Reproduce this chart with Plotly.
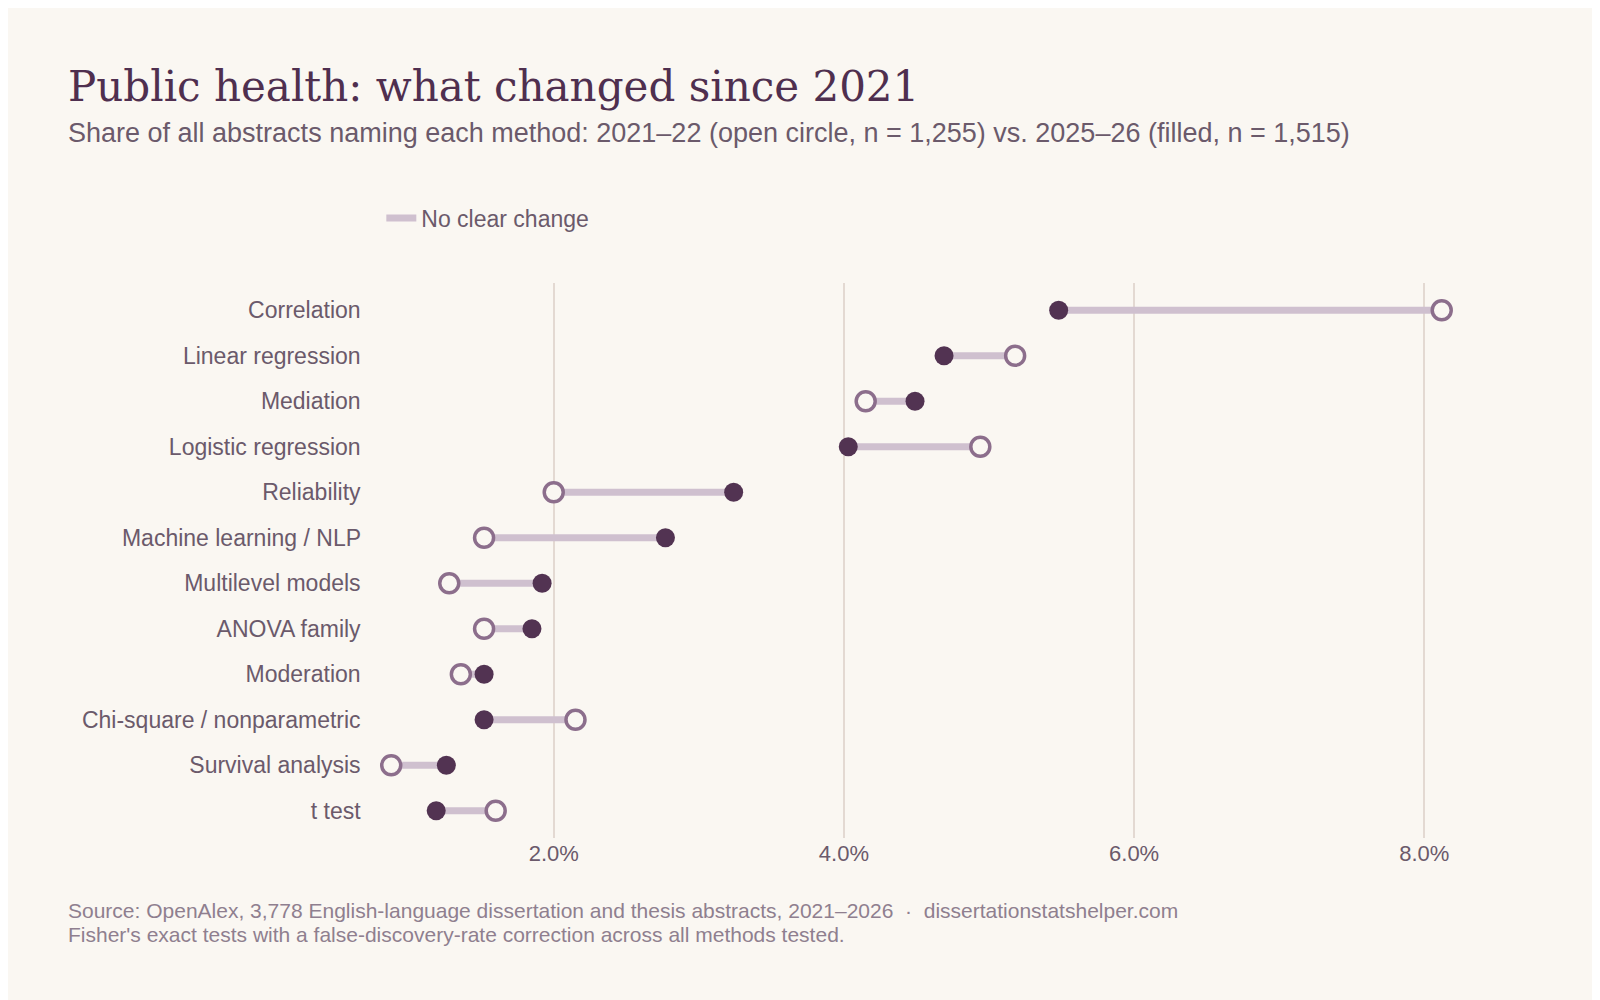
import plotly.graph_objects as go

methods = ["Correlation", "Linear regression", "Mediation", "Logistic regression", "Reliability",
           "Machine learning / NLP", "Multilevel models", "ANOVA family", "Moderation",
           "Chi-square / nonparametric", "Survival analysis", "t test"]
share_2021 = [8.12, 5.18, 4.15, 4.94, 2.00, 1.52, 1.28, 1.52, 1.36, 2.15, 0.88, 1.60]
share_2025 = [5.48, 4.69, 4.49, 4.03, 3.24, 2.77, 1.92, 1.85, 1.52, 1.52, 1.26, 1.19]

BG = "#faf7f2"; DARK = "#523352"; OPEN = "#8c6e8c"; SEG = "#cfc0cf"; TXT = "#6b5a6b"

fig = go.Figure()
xs, ys = [], []
for m, a, b in zip(methods, share_2021, share_2025):
    xs += [a, b, None]; ys += [m, m, None]
fig.add_trace(go.Scatter(x=xs, y=ys, mode="lines", line=dict(color=SEG, width=7),
                         name="No clear change", showlegend=True, hoverinfo="skip"))
fig.add_trace(go.Scatter(x=share_2025, y=methods, mode="markers", showlegend=False,
                         marker=dict(size=19, color=DARK, line=dict(width=0))))
fig.add_trace(go.Scatter(x=share_2021, y=methods, mode="markers", showlegend=False,
                         marker=dict(size=19, color=BG, line=dict(width=3.5, color=OPEN))))

PL, PR, PT, PB = 360, 130, 275, 170
fig.update_layout(
    width=1600, height=1000, paper_bgcolor=BG, plot_bgcolor=BG,
    margin=dict(l=PL, r=PR, t=PT, b=PB),
    font=dict(family="Liberation Sans, Arial", color=TXT, size=22),
    xaxis=dict(range=[0.72, 8.37], tickvals=[2, 4, 6, 8], ticktext=["2.0%", "4.0%", "6.0%", "8.0%"],
               showgrid=True, gridcolor="#e3d9d2", gridwidth=2, zeroline=False, showline=False,
               tickfont=dict(size=22, color=TXT)),
    yaxis=dict(categoryorder="array", categoryarray=methods[::-1], showgrid=False, zeroline=False,
               range=[-0.6, 11.6], ticksuffix=" ", tickfont=dict(size=23, color=TXT)),
    legend=dict(orientation="h", x=0.012, xanchor="left", y=(1000 - PB - 210) / (1000 - PT - PB),
                yanchor="middle", font=dict(size=23, color=TXT), bgcolor="rgba(0,0,0,0)"),
)
def ann(text, px, py, size, color, family="Liberation Sans, Arial"):
    fig.add_annotation(text=text, xref="paper", yref="paper",
                       x=(px - PL) / (1600 - PL - PR), y=(1000 - PB - py) / (1000 - PT - PB),
                       xanchor="left", yanchor="middle", showarrow=False,
                       font=dict(size=size, color=color, family=family))
ann("Public health: what changed since 2021", 58, 78, 42, "#4f2f4f", "DejaVu Serif, Liberation Serif")
ann("Share of all abstracts naming each method: 2021–22 (open circle, n = 1,255) vs. 2025–26 (filled, n = 1,515)", 58, 125, 27, TXT)
ann("Source: OpenAlex, 3,778 English-language dissertation and thesis abstracts, 2021–2026  ·  dissertationstatshelper.com", 58, 902, 21, "#8f7f8f")
ann("Fisher's exact tests with a false-discovery-rate correction across all methods tested.", 58, 926, 21, "#8f7f8f")
fig.write_html("out.html")
